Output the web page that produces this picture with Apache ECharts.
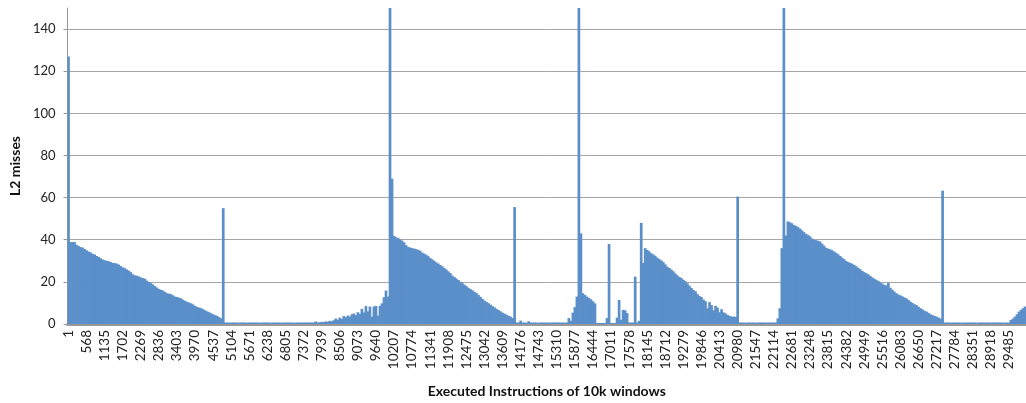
<!DOCTYPE html>
<html>
<head>
<meta charset="utf-8">
<title>L2 misses per 10k-instruction window</title>
<script src="https://cdn.jsdelivr.net/npm/echarts@6/dist/echarts.min.js"></script>
<style>
  html, body { margin: 0; padding: 0; background: #ffffff; }
  #chart { width: 1026px; height: 403px; }
</style>
</head>
<body>
<div id="chart"></div>
<script>
// Each category is one sample of 63 consecutive 10k-instruction windows,
// starting at window 1.
const windowStep = 63;
const windowCount = 477;

// Window numbers printed on the horizontal axis.
const tickLabels = [
  '1', '568', '1135', '1702', '2269', '2836', '3403', '3970', '4537', '5104',
  '5671', '6238', '6805', '7372', '7939', '8506', '9073', '9640', '10207', '10774',
  '11341', '11908', '12475', '13042', '13609', '14176', '14743', '15310', '15877', '16444',
  '17011', '17578', '18145', '18712', '19279', '19846', '20413', '20980', '21547', '22114',
  '22681', '23248', '23815', '24382', '24949', '25516', '26083', '26650', '27217', '27784',
  '28351', '28918', '29485'
];

// L2 misses per sampled window, phase by phase.
const startup = [127];
const phase1Decay = [
  38.9, 38.9, 38.9, 37.6, 37.0, 36.5, 36.3, 35.6, 35.0, 34.4,
  34.0, 33.3, 33.0, 32.3, 31.8, 31.2, 30.6, 30.3, 30.0, 29.8,
  29.4, 29.0, 28.9, 28.7, 28.2, 27.5, 26.9, 26.5, 25.9, 25.3,
  24.6, 23.6, 23.1, 22.9, 22.6, 22.1, 21.8, 21.5, 20.6, 20.0,
  19.4, 18.8, 18.0, 17.3, 16.6, 16.2, 15.9, 15.2, 14.6, 14.4,
  14.2, 13.6, 13.0, 12.8, 12.5, 12.2, 11.5, 11.0, 10.5, 10.2,
  9.8, 9.3, 8.6, 8.1, 7.8, 7.5, 7.0, 6.5, 6.0, 5.6,
  5.1, 4.6, 4.2, 3.8, 3.2, 2.7
];
const phase1End = [55];
const idle1 = [
  0.7, 0.7, 0.6, 0.7, 0.7, 0.7, 0.6, 0.7, 0.7, 0.7,
  0.7, 0.6, 0.7, 0.7, 0.7, 0.7, 0.7, 0.6, 0.7, 0.7,
  0.7, 0.7, 0.7, 0.6, 0.7, 0.7, 0.7, 0.7, 0.6, 0.7,
  0.7, 0.7, 0.7, 0.7, 0.6, 0.7, 0.7, 0.7, 0.7, 0.7,
  0.7, 0.7, 0.7, 0.7, 0.7, 1.2, 0.8
];
const warmup2 = [
  0.8, 1.0, 0.9, 1.2, 1.1, 1.5, 1.3, 1.8, 2.6, 2.0,
  3.0, 2.4, 3.8, 3.2, 4.0, 3.5, 4.6, 5.0, 4.2, 5.6,
  4.8, 7.2, 5.5, 8.5, 6.0, 8.3, 3.5, 8.3, 8.6, 4.0,
  8.6, 9.8, 12.7, 15.9, 13.0
];
const phase2Start = [150, 69];
const phase2Decay = [
  41.8, 41.2, 40.8, 40.2, 39.6, 38.8, 37.4, 36.6, 36.3, 36.0,
  35.8, 35.5, 35.2, 34.8, 33.9, 33.4, 32.9, 32.2, 31.3, 30.7,
  30.0, 29.2, 28.7, 28.0, 27.4, 26.6, 25.9, 25.0, 24.2, 23.0,
  22.3, 21.6, 20.9, 20.1, 19.4, 18.7, 18.0, 17.2, 16.6, 16.0,
  15.3, 14.7, 13.8, 12.9, 11.9, 11.1, 10.5, 9.9, 9.2, 8.5,
  7.9, 7.2, 6.6, 6.0, 5.4, 4.9, 4.4, 3.9, 3.5, 2.8
];
const phase2End = [55.5];
const idle2 = [
  0.7, 0.7, 1.6, 0.7, 0.7, 0.6, 1.3, 0.7, 0.7, 0.7,
  0.7, 0.6, 0.7, 0.7, 0.7, 0.7, 0.7, 0.6, 0.7, 0.7,
  0.7, 0.7, 0.7, 0.7, 0.6, 0.7
];
const transition3 = [
  2.8, 1.5, 5.4, 8.0, 13.0, 150, 43, 14.6, 13.8, 13.0,
  12.4, 11.7, 10.8, 9.8, 0.5, 0.5, 0.5, 0.5, 0.5, 2.8,
  38, 0.5, 0.5, 0.5, 3.0, 11.4, 2.0, 6.7, 6.5, 5.2,
  0.7, 0.7, 0.7, 22.5, 0.7, 1.5, 48, 29, 36
];
const phase3Decay = [
  35.2, 34.5, 33.6, 33.0, 32.4, 31.5, 30.8, 30.2, 29.4, 28.3,
  27.2, 26.6, 25.9, 25.0, 24.0, 23.1, 22.3, 21.8, 21.0, 20.3,
  19.3, 18.2, 17.1, 16.2, 15.5, 14.2, 13.3, 12.8, 11.6, 10.8,
  7.5, 10.4, 9.0, 6.5, 8.6, 7.8, 5.6, 7.0, 5.5, 5.0,
  4.3, 3.8, 3.5, 3.5, 3.4
];
const phase3End = [60.5];
const idle3 = [
  0.7, 0.7, 0.7, 0.6, 0.7, 0.7, 0.7, 0.7, 0.6, 0.7,
  0.7, 0.7, 0.7, 0.7, 0.6, 0.7, 0.7, 0.7, 0.7
];
const phase4Start = [2.7, 7.5, 36, 150, 42, 48.7];
const phase4Decay = [
  48.3, 47.8, 47.0, 46.6, 46.0, 45.3, 44.5, 43.6, 42.8, 42.3,
  41.6, 40.6, 40.0, 39.8, 39.5, 39.2, 38.2, 37.2, 36.2, 35.8,
  35.5, 35.0, 34.4, 33.8, 33.1, 32.3, 31.5, 30.8, 29.9, 29.4,
  29.0, 28.6, 28.0, 27.4, 26.7, 26.0, 25.2, 24.6, 24.1, 23.6,
  22.8, 22.1, 21.5, 21.0, 20.4, 19.8, 19.2, 18.6, 18.4, 19.5,
  17.2, 16.3, 15.4, 14.6, 14.0, 13.6, 13.1, 12.6, 12.2, 11.4,
  10.6, 10.0, 9.4, 9.0, 8.2, 7.5, 6.9, 6.3, 5.9, 5.3,
  4.6, 4.2, 3.8, 3.5, 3.0, 2.6
];
const phase4End = [63.3];
const idle4 = [
  0.7, 0.7, 0.7, 0.6, 0.7, 0.7, 0.7, 0.7, 0.7, 0.6,
  0.7, 0.7, 0.7, 0.7, 0.7, 0.7, 0.6, 0.7, 0.7, 0.7,
  0.7, 0.7, 0.7, 0.6, 0.7, 0.7, 0.7, 0.7, 0.7, 0.7,
  0.6, 0.7, 0.7
];
const warmup5 = [1.9, 2.6, 3.5, 4.6, 5.9, 6.7, 7.5, 8.3];

const l2Misses = [].concat(
  startup, phase1Decay, phase1End, idle1,
  warmup2, phase2Start, phase2Decay, phase2End, idle2,
  transition3, phase3Decay, phase3End, idle3,
  phase4Start, phase4Decay, phase4End, idle4,
  warmup5
);

const windows = [];
for (let i = 0; i < windowCount; i++) {
  windows.push(String(1 + i * windowStep));
}
const labelSet = new Set(tickLabels);

const FONT = 'Lato, "Open Sans", sans-serif';
const GRID = '#a6a6a6';
const BAR = '#5b8fc9';

const chart = echarts.init(document.getElementById('chart'), null, { renderer: 'canvas' });
chart.setOption({
  animation: false,
  backgroundColor: '#ffffff',
  grid: { left: 67, right: 0, top: 8, bottom: 79, containLabel: false },
  xAxis: {
    type: 'category',
    data: windows,
    boundaryGap: true,
    name: 'Executed Instructions of 10k windows',
    nameLocation: 'middle',
    nameGap: 60,
    nameTextStyle: { fontFamily: FONT, fontSize: 14, fontWeight: 'bold', color: '#111' },
    axisLine: { show: true, lineStyle: { color: '#999999', width: 3 } },
    axisTick: { show: false },
    splitLine: { show: false },
    axisLabel: {
      rotate: 90,
      interval: (idx, value) => labelSet.has(value),
      fontFamily: FONT,
      fontSize: 13.5,
      color: '#222',
      margin: 6
    }
  },
  yAxis: {
    type: 'value',
    min: 0,
    max: 150,
    interval: 20,
    name: 'L2 misses',
    nameLocation: 'middle',
    nameGap: 45,
    nameTextStyle: { fontFamily: FONT, fontSize: 14, fontWeight: 'bold', color: '#111' },
    axisLine: { show: true, lineStyle: { color: '#999999', width: 1 } },
    axisTick: { show: true, length: 4, lineStyle: { color: '#999999' } },
    splitLine: {
      show: true,
      lineStyle: {
        color: [GRID, GRID, GRID, GRID, GRID, GRID, GRID, GRID, 'rgba(0,0,0,0)'],
        width: 1
      }
    },
    axisLabel: {
      showMaxLabel: false,
      fontFamily: FONT,
      fontSize: 13,
      color: '#222',
      margin: 12
    }
  },
  series: [{
    type: 'bar',
    data: l2Misses,
    // slightly wider than a category so neighbouring bars overlap and read as one area
    barWidth: 2.7,
    clip: true,
    itemStyle: { color: BAR }
  }]
});
</script>
</body>
</html>
